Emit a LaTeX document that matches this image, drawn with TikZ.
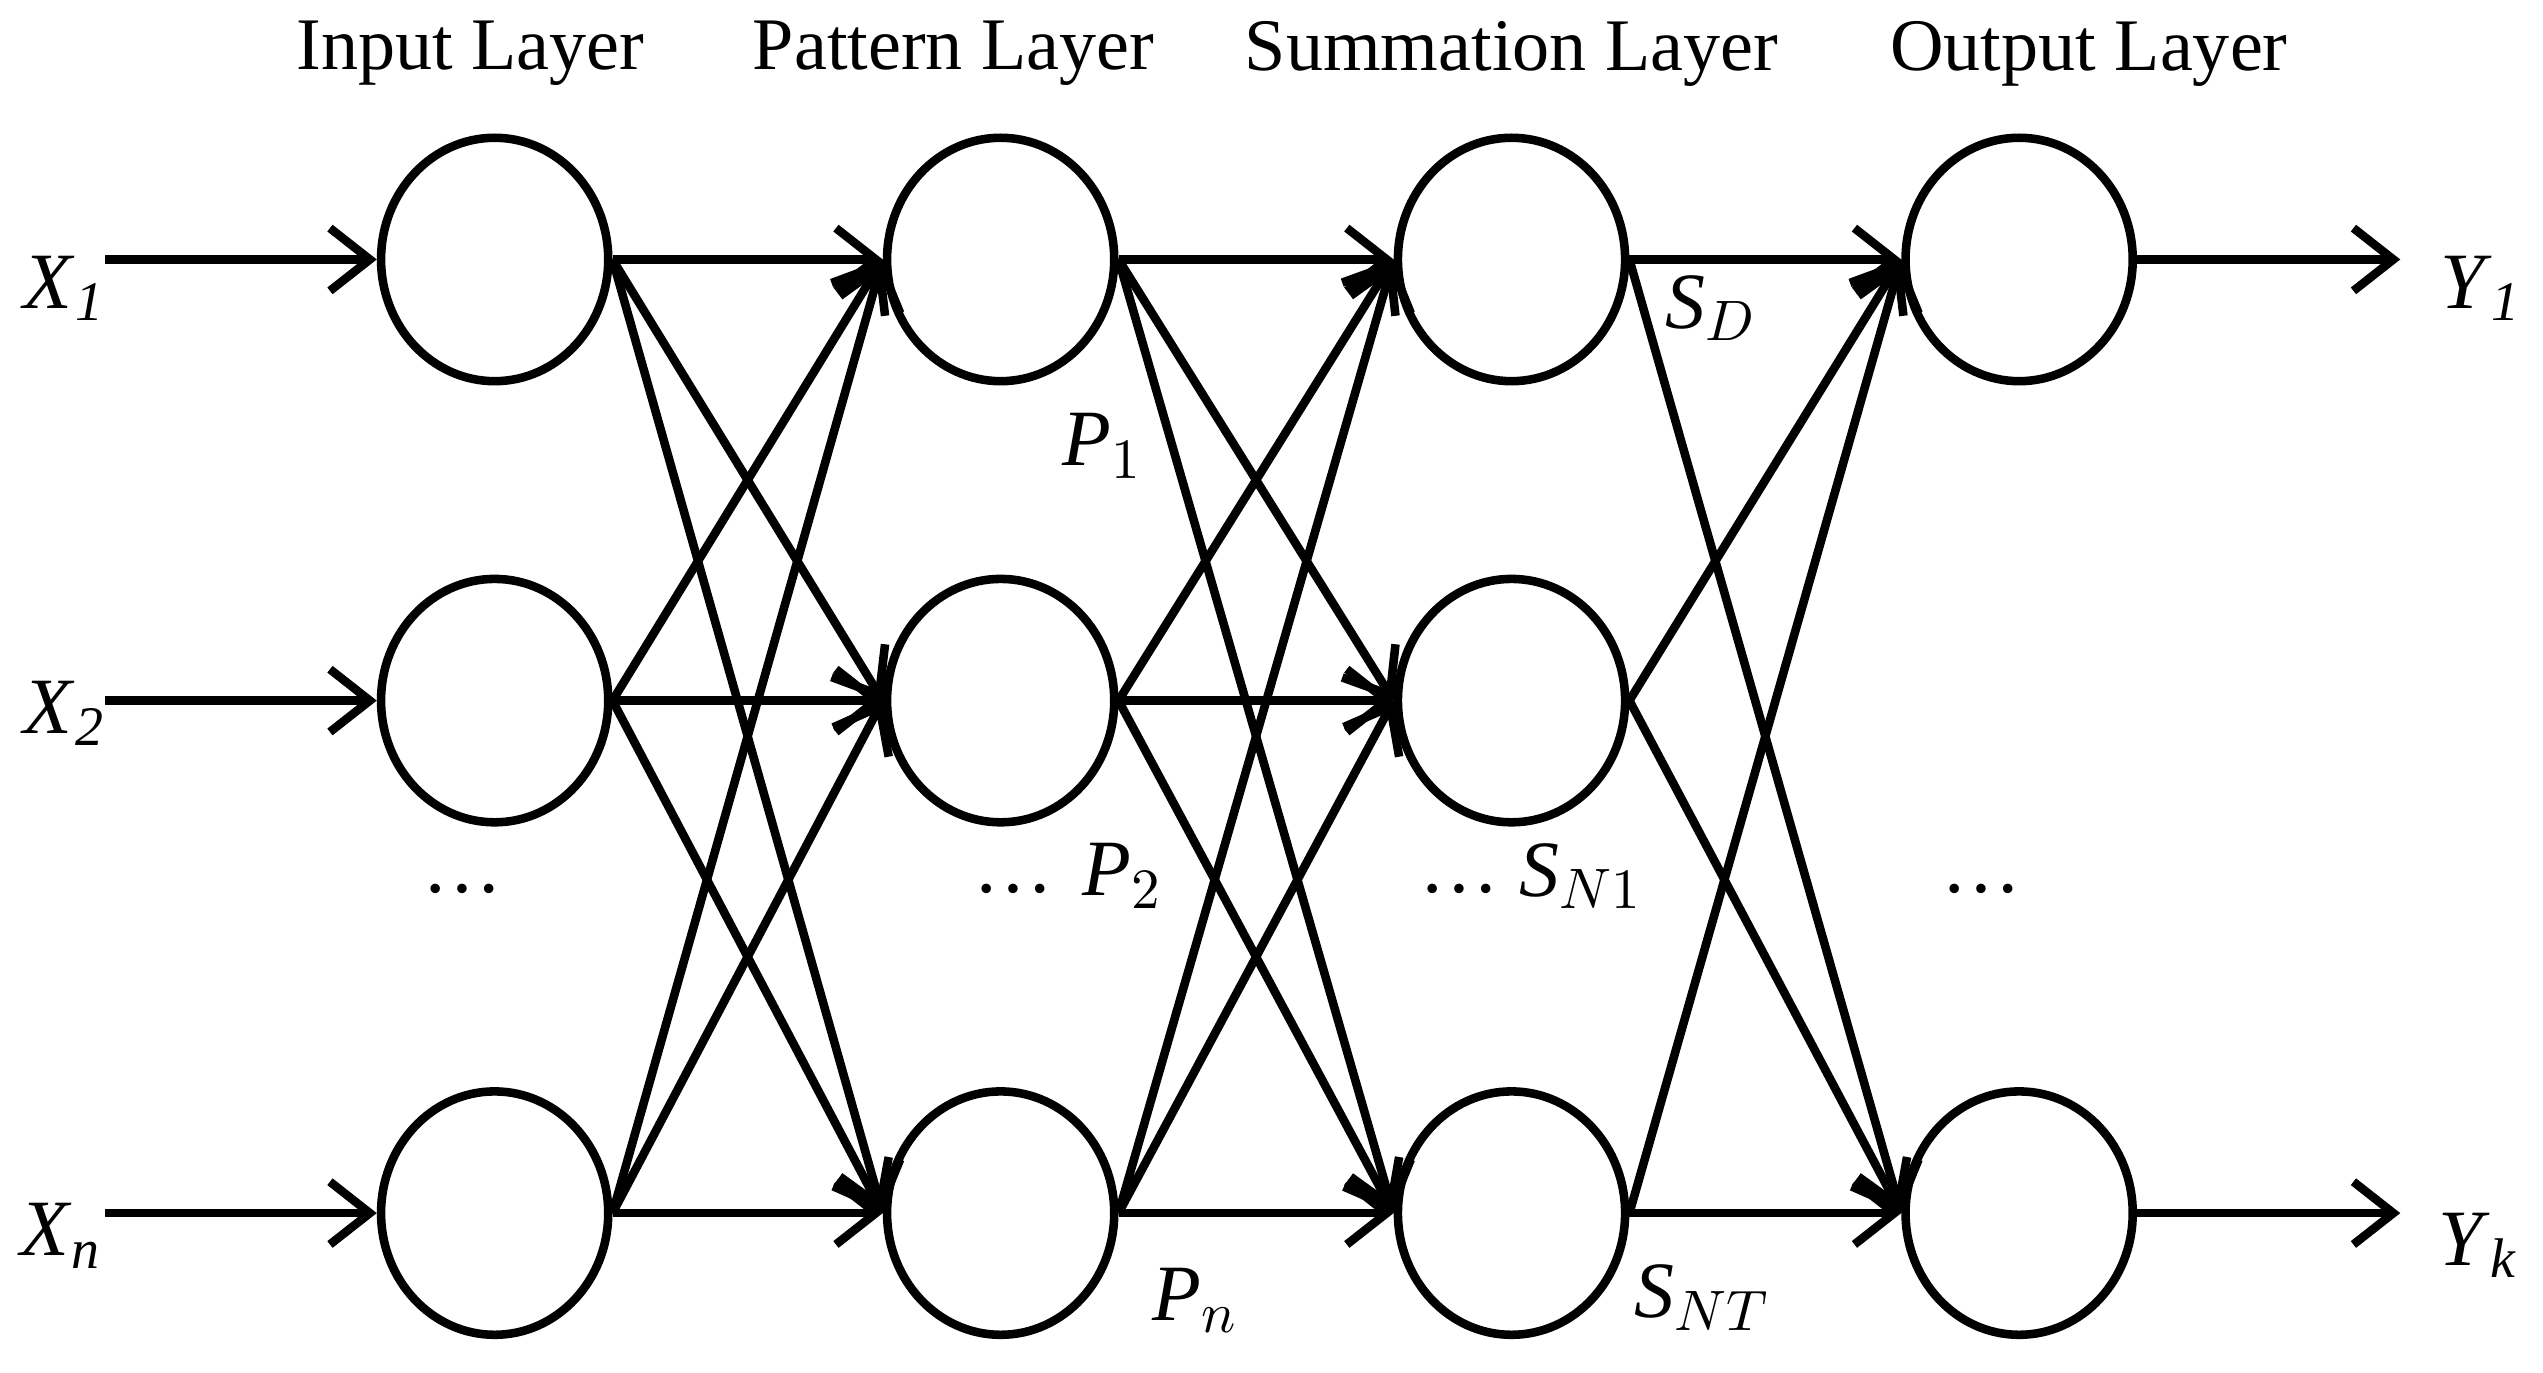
\documentclass[tikz,border=0pt]{standalone}
\usepackage{fontspec}
\setmainfont{Liberation Serif}
\usetikzlibrary{arrows.meta,shapes.geometric}
\begin{document}
\begin{tikzpicture}[x=0.01cm,y=-0.01cm,
  neuron/.style={draw,line width=1.5pt,ellipse,minimum width=1.4cm,minimum height=1.5cm,inner sep=0pt},
  conn/.style={line width=1.5pt,-{Straight Barb[length=7pt,width=11pt,line width=1.5pt]}},
  lbl/.style={font=\fontsize{14}{16}\selectfont},
  ttl/.style={font=\fontsize{13}{15}\selectfont}]
\useasboundingbox (0,0) rectangle (1568,846);
\foreach \c/\x in {a/305,b/617,c/932}
  \foreach \r/\y in {1/160,2/432,3/748}
    \node[neuron] (\c\r) at (\x,\y) {};
\node[neuron] (d1) at (1245,160) {};
\node[neuron] (d3) at (1245,748) {};
\foreach \s in {1,2,3}\foreach \t in {1,2,3}{
  \draw[conn] (a\s.east) -- (b\t.west);
  \draw[conn] (b\s.east) -- (c\t.west);}
\foreach \s in {1,2,3}\foreach \t in {1,3}
  \draw[conn] (c\s.east) -- (d\t.west);
\coordinate (i1) at (65,160); \coordinate (i2) at (65,432); \coordinate (i3) at (65,748);
\coordinate (o1) at (1480,160); \coordinate (o3) at (1480,748);
\draw[conn] (i1) -- (a1.west); \draw[conn] (i2) -- (a2.west); \draw[conn] (i3) -- (a3.west);
\draw[conn] (d1.east) -- (o1); \draw[conn] (d3.east) -- (o3);
\node[lbl] (x1) at (40,178) {\textit{X}$_{\mathit{1}}$};
\node[lbl] (x2) at (40,440) {\textit{X}$_{\mathit{2}}$};
\node[lbl] (xn) at (38,762) {\textit{X}$_{\mathit{n}}$};
\node[lbl] (y1) at (1530,178) {\textit{Y}$_{\mathit{1}}$};
\node[lbl] (yk) at (1528,768) {\textit{Y}$_{\mathit{k}}$};
\node[ttl] at (290,33) {Input Layer};
\node[ttl] at (588,33) {Pattern Layer};
\node[ttl] at (932,33) {Summation Layer};
\node[ttl] at (1288,33) {Output Layer};
\foreach \x in {285,625,900,1222} \node[lbl] at (\x,548) {\dots};
\node[lbl] at (680,275) {\textit{P}$_{1}$};
\node[lbl] at (692,540) {\textit{P}$_{2}$};
\node[lbl] at (737,802) {\textit{P}$_{n}$};
\node[lbl] at (1055,190) {\textit{S}$_{D}$};
\node[lbl] at (975,540) {\textit{S}$_{N1}$};
\node[lbl] at (1050,800) {\textit{S}$_{NT}$};
\end{tikzpicture}
\end{document}
